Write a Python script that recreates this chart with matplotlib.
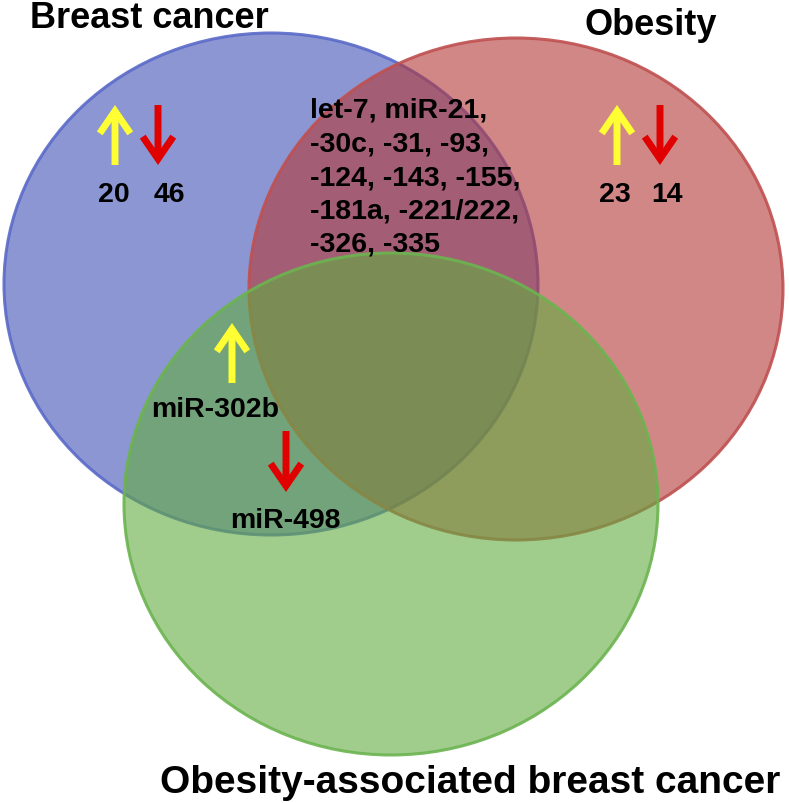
import matplotlib
matplotlib.use("Agg")
import matplotlib.pyplot as plt
from matplotlib.patches import Ellipse

# ----------------------------
# Data
# ----------------------------
set_names = ["Breast cancer", "Obesity", "Obesity-associated breast cancer"]
set_colors = ["#4050b4", "#b43737", "#61ac3f"]
edge_colors = ["#5a6ac8", "#c05050", "#6cb450"]

# up / down counts unique to each of the first two sets
bc_counts = ["20", "46"]
ob_counts = ["23", "14"]

# shared by breast cancer and obesity
shared_mirnas = [
    "let-7, miR-21,",
    "-30c, -31, -93,",
    "-124, -143, -155,",
    "-181a, -221/222,",
    "-326, -335",
]

# shared by breast cancer and obesity-associated breast cancer
up_mirna = "miR-302b"
down_mirna = "miR-498"

UP = "#ffff33"
DOWN = "#e00000"

plt.rcParams["font.family"] = ["Liberation Sans", "DejaVu Sans"]

fig = plt.figure(figsize=(7.89, 8.04), dpi=100)
ax = fig.add_axes([0, 0, 1, 1])
ax.set_xlim(0, 789)
ax.set_ylim(804, 0)
ax.axis("off")

# ellipses (blue, red, green)
centers = [(271, 285), (516, 290), (391, 505)]
for (cx, cy), fc, ec in zip(centers, set_colors, edge_colors):
    ax.add_patch(Ellipse((cx, cy), 534, 502, facecolor=fc, alpha=0.6, edgecolor="none"))
    ax.add_patch(Ellipse((cx, cy), 534, 502, facecolor="none", edgecolor=ec, lw=2.2, alpha=0.9))

# set titles
title_kw = dict(fontweight="bold", color="black", va="baseline")
ax.text(30, 28, set_names[0], ha="left", fontsize=26, **title_kw)
ax.text(585, 35, set_names[1], ha="left", fontsize=26, **title_kw)
ax.text(160, 793, set_names[2], ha="left", fontsize=28, **title_kw)


def arrow(x, y_from, y_to, color):
    ax.annotate(
        "", xy=(x, y_to), xytext=(x, y_from),
        arrowprops=dict(arrowstyle="->,head_length=0.8,head_width=0.55",
                        color=color, lw=5, shrinkA=0, shrinkB=0,
                        mutation_scale=20, joinstyle="miter", capstyle="butt"),
    )


lab_kw = dict(fontsize=20.5, fontweight="bold", color="black", va="baseline")

# breast cancer only
arrow(115, 166, 106, UP)
arrow(158, 106, 166, DOWN)
ax.text(114, 202, bc_counts[0], ha="center", **lab_kw)
ax.text(169, 202, bc_counts[1], ha="center", **lab_kw)

# obesity only
arrow(617, 166, 106, UP)
arrow(660, 106, 166, DOWN)
ax.text(615, 202, ob_counts[0], ha="center", **lab_kw)
ax.text(667, 202, ob_counts[1], ha="center", **lab_kw)

# breast cancer & obesity
for i, line in enumerate(shared_mirnas):
    ax.text(310, 118 + i * 33.5, line, ha="left", **lab_kw)

# breast cancer & obesity-associated breast cancer
arrow(232, 384, 324, UP)
ax.text(215, 417, up_mirna, ha="center", **lab_kw)
arrow(286, 432, 493, DOWN)
ax.text(285, 528, down_mirna, ha="center", **lab_kw)

fig.savefig("out.png", dpi=100)
